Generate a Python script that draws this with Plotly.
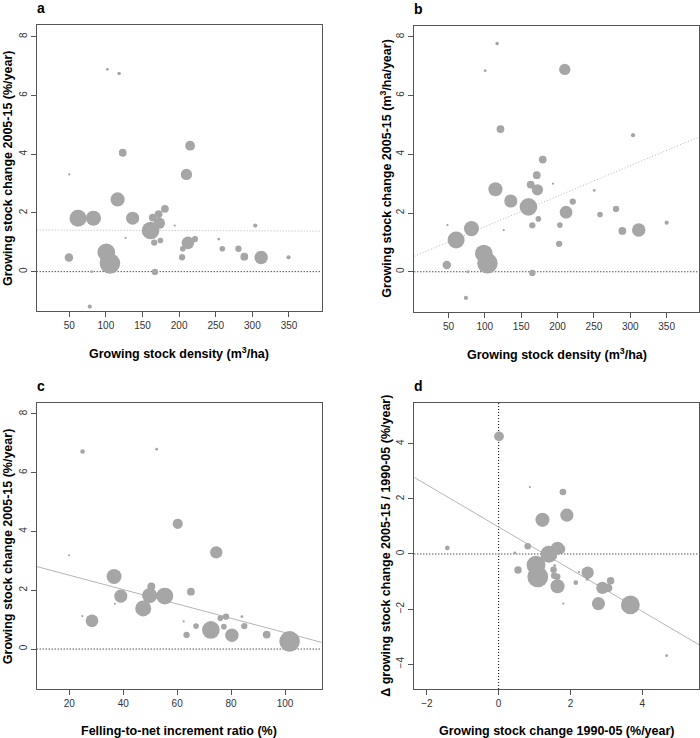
import plotly.graph_objects as go

# ---------------- data ----------------
# Panel a: growing stock density (m3/ha) vs growing stock change 2005-15 (%/year); bubble = forest area
a_density = [102, 118, 123, 215, 50, 210, 116, 62, 83, 136.5, 164, 172, 180.6, 173, 161, 194, 127,
             166, 174.5, 212, 221.6, 205, 204, 49.5, 100.5, 105.5, 80.5, 167, 78, 254, 259, 281, 289,
             304, 312, 349.5]
a_change = [6.89, 6.75, 4.05, 4.29, 3.31, 3.31, 2.46, 1.82, 1.82, 1.82, 1.84, 1.96, 2.14, 1.65, 1.40,
            1.57, 1.15, 0.99, 1.06, 0.98, 1.11, 0.78, 0.49, 0.48, 0.66, 0.28, 0.0, -0.01, -1.19, 1.11,
            0.78, 0.78, 0.51, 1.57, 0.48, 0.49]
a_area = [1, 1.6, 7.6, 12, 0.6, 16, 25, 36, 28.6, 21.6, 7.6, 7.6, 7.6, 16, 39, 0.6, 0.6, 5, 4, 20,
          5, 4, 5, 9, 39, 52.6, 1, 5, 2.25, 1, 4, 5, 7.6, 2.25, 22.6, 2.25]
a_fit = (1.42, -0.0001)  # intercept, slope

# Panel b: growing stock density vs growing stock change (m3/ha/year)
b_density = [116.9, 100.4, 209.9, 121.5, 303.8, 179.6, 171.4, 163.1, 193.8, 114.6, 172.3, 250.4,
             135.7, 220.9, 160.0, 280.4, 211.7, 258.4, 173.6, 165.3, 203.2, 81.6, 289.1, 311.6,
             350.0, 126.0, 48.6, 60.5, 202.2, 98.6, 103.6, 47.7, 76.8, 165.3, 74.0]
b_change = [7.77, 6.85, 6.89, 4.86, 4.65, 3.82, 3.29, 2.97, 3.00, 2.81, 2.79, 2.77, 2.41, 2.39, 2.21,
            2.14, 2.03, 1.95, 1.80, 1.58, 1.59, 1.47, 1.39, 1.42, 1.67, 1.42, 1.59, 1.08, 0.95, 0.62,
            0.29, 0.23, 0.00, -0.04, -0.89]
b_area = [1.6, 1, 16, 7.6, 2.25, 7.6, 7.6, 7.6, 0.6, 25, 16, 1, 21.6, 5, 39, 5, 20, 4, 4, 5, 4, 28.6,
          7.6, 22.6, 2.25, 0.6, 0.6, 36, 5, 39, 52.6, 9, 1, 5, 2.25]
b_fit = (0.496, 0.01039)

# Panel c: felling-to-net increment ratio (%) vs growing stock change 2005-15 (%/year)
c_ratio = [24.9, 52.4, 60.2, 74.5, 19.9, 36.6, 50.4, 65.1, 39.1, 49.8, 55.4, 36.9, 47.4, 24.8, 28.4,
           62.4, 76.0, 78.1, 84.0, 67.0, 77.3, 84.9, 63.5, 72.5, 80.3, 93.2, 101.7]
c_change = [6.72, 6.80, 4.26, 3.29, 3.19, 2.47, 2.13, 1.95, 1.80, 1.82, 1.80, 1.54, 1.38, 1.12, 0.96,
            0.94, 1.05, 1.10, 1.10, 0.78, 0.76, 0.78, 0.48, 0.65, 0.47, 0.49, 0.26]
c_area = [2.7, 1, 13, 19, 0.6, 28, 7.6, 7.6, 21.6, 28.6, 36, 0.6, 32, 0.6, 20, 0.6, 4, 5, 1, 4, 4, 5,
          5, 39, 22.6, 7.6, 52.6]
c_fit = (3.00, -0.02443)

# Panel d: growing stock change 1990-05 vs delta growing stock change (%/year)
d_change_9005 = [0.01, 0.87, 1.79, 1.22, 1.90, -1.43, 0.81, 0.45, 0.0, 1.40, 1.64, 1.72, 0.54, 1.04,
                 1.09, 1.53, 1.56, 1.55, 1.63, 1.64, 2.24, 2.48, 2.47, 2.15, 3.12, 2.89, 3.05, 2.78,
                 1.80, 3.67, 4.68]
d_delta = [4.27, 2.43, 2.25, 1.24, 1.41, 0.22, 0.28, 0.04, 0.0, -0.01, 0.21, 0.18, -0.58, -0.40, -0.83,
           -0.57, -0.42, -0.79, -0.83, -1.17, -0.66, -0.68, -0.91, -1.04, -0.97, -1.23, -1.23, -1.80,
           -1.80, -1.85, -3.69]
d_area = [12, 0.6, 5.5, 25, 21.6, 2.7, 5.5, 1, 0.6, 36, 21.6, 12, 7, 44, 54, 5.5, 1, 5.5, 5.5, 25, 0.6,
          19, 1.6, 2.7, 7, 19, 9, 21.6, 0.6, 44, 1]
d_fit = (0.979, -0.7655)

# ---------------- layout helpers ----------------
W, H = 700, 738
FONT = "Arial, Liberation Sans, sans-serif"
BUBBLE = "#a6a6a6"
AXC = "#555555"


def px(x):
    return x / W


def py(y):
    return 1 - y / H


panels = [
    dict(name="a", x=a_density, y=a_change, s=a_area, fit=a_fit, fitdash="1px,2px",
         xr=[5.5, 394.7], yr=[-1.33, 8.4], xt=[50, 100, 150, 200, 250, 300, 350], yt=[0, 2, 4, 6, 8],
         box=(36.7, 321.7, 25, 310.7), vzero=False),
    dict(name="b", x=b_density, y=b_change, s=b_area, fit=b_fit, fitdash="1px,2px",
         xr=[3.0, 394.9], yr=[-1.36, 8.37], xt=[50, 100, 150, 200, 250, 300, 350], yt=[0, 2, 4, 6, 8],
         box=(414.3, 699.3, 26, 311.7), vzero=False),
    dict(name="c", x=c_ratio, y=c_change, s=c_area, fit=c_fit, fitdash="solid",
         xr=[7.9, 113.6], yr=[-1.36, 8.37], xt=[20, 40, 60, 80, 100], yt=[0, 2, 4, 6, 8],
         box=(36.7, 321.7, 403, 689), vzero=False),
    dict(name="d", x=d_change_9005, y=d_delta, s=d_area, fit=d_fit, fitdash="solid",
         xr=[-2.35, 5.59], yr=[-4.9, 5.48], xt=[-2, 0, 2, 4], yt=[-4, -2, 0, 2, 4],
         box=(414.3, 699.3, 403, 689), vzero=True),
]

xtitles = ["Growing stock density (m<sup>3</sup>/ha)", "Growing stock density (m<sup>3</sup>/ha)",
           "Felling-to-net increment ratio (%)", "Growing stock change 1990-05 (%/year)"]
ytitles = ["Growing stock change 2005-15 (%/year)", "Growing stock change 2005-15 (m<sup>3</sup>/ha/year)",
           "Growing stock change 2005-15 (%/year)", "Δ growing stock change 2005-15 / 1990-05 (%/year)"]

fig = go.Figure()
shapes = []
annotations = []
layout = {}

for i, p in enumerate(panels):
    k = "" if i == 0 else str(i + 1)
    xa, ya = "x" + k, "y" + k
    x0, x1, y0, y1 = p["box"]
    layout["xaxis" + k] = dict(
        domain=[px(x0), px(x1)], range=p["xr"], anchor=ya, tickvals=p["xt"], automargin=False,
        showline=True, mirror=True, linecolor=AXC, linewidth=1, ticks="outside", ticklen=5,
        tickcolor=AXC, showgrid=False, zeroline=False,
        tickfont=dict(family=FONT, size=10, color="#333333"))
    layout["yaxis" + k] = dict(
        domain=[py(y1), py(y0)], range=p["yr"], anchor=xa, tickvals=p["yt"], automargin=False,
        showline=True, mirror=True, linecolor=AXC, linewidth=1, ticks="outside", ticklen=5,
        tickcolor=AXC, showgrid=False, zeroline=False, tickangle=-90,
        tickfont=dict(family=FONT, size=10, color="#333333"))

    # zero reference lines
    shapes.append(dict(type="line", xref=xa + " domain", yref=ya, x0=0, x1=1, y0=0, y1=0,
                       line=dict(color="black", width=1, dash="1px,2px"), layer="below"))
    if p["vzero"]:
        shapes.append(dict(type="line", xref=xa, yref=ya + " domain", x0=0, x1=0, y0=0, y1=1,
                           line=dict(color="black", width=1, dash="1px,2px"), layer="below"))

    # regression line across the full plot
    b0, b1 = p["fit"]
    fx = p["xr"]
    fig.add_trace(go.Scatter(
        x=fx, y=[b0 + b1 * v for v in fx], mode="lines", xaxis=xa, yaxis=ya,
        line=dict(color="#b5b5b5", width=1, dash=p["fitdash"]), hoverinfo="skip", showlegend=False))

    fig.add_trace(go.Scatter(
        x=p["x"], y=p["y"], mode="markers", xaxis=xa, yaxis=ya, showlegend=False,
        marker=dict(size=p["s"], sizemode="area", sizeref=0.25, color=BUBBLE, line=dict(width=0),
                    opacity=1)))

    cx = (x0 + x1) / 2
    cy = (y0 + y1) / 2
    # panel letter
    annotations.append(dict(text="<b>%s</b>" % p["name"], x=px(x0 + 4), y=py(y0 - 17), xref="paper",
                            yref="paper", showarrow=False, xanchor="center", yanchor="middle",
                            font=dict(family=FONT, size=14, color="black")))
    # x title
    annotations.append(dict(text="<b>%s</b>" % xtitles[i], x=px(cx), y=py(y1 + 42), xref="paper",
                            yref="paper", showarrow=False, xanchor="center", yanchor="middle",
                            font=dict(family=FONT, size=12.5, color="black")))
    # y title
    annotations.append(dict(text="<b>%s</b>" % ytitles[i], x=px(x0 - 28.5), y=py(cy), xref="paper",
                            yref="paper", showarrow=False, xanchor="center", yanchor="middle",
                            textangle=-90, font=dict(family=FONT, size=12.5, color="black")))

fig.update_layout(
    template="none",
    width=W, height=H, margin=dict(l=0, r=0, t=0, b=0),
    plot_bgcolor="white", paper_bgcolor="white",
    shapes=shapes, annotations=annotations, showlegend=False, **layout)

fig.write_html("out.html")
